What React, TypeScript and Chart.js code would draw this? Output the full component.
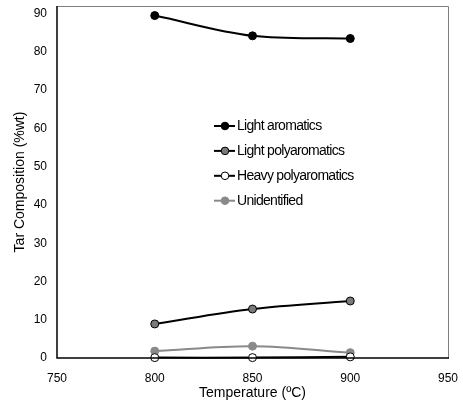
import React, { useEffect, useRef } from "react";
import { Chart, registerables } from "chart.js";

Chart.register(...registerables);

const temperatures = [800, 850, 900];
const lightAromatics = [89.5, 84.2, 83.5];
const lightPolyaromatics = [8.9, 12.8, 14.9];
const heavyPolyaromatics = [0.1, 0.1, 0.3];
const unidentified = [1.8, 3.1, 1.4];
const seriesNames = ["Light aromatics", "Light polyaromatics", "Heavy polyaromatics", "Unidentified"];
const yTicks = [0, 10, 20, 30, 40, 50, 60, 70, 80, 90];
const xTicks = [750, 800, 850, 900, 950];
const xTitle = "Temperature (ºC)";
const yTitle = "Tar Composition (%wt)";

const FONT = "'Liberation Sans', Arial, sans-serif";

const toPoints = (vals: number[]) => vals.map((v, i) => ({ x: temperatures[i], y: v }));

const framePlugin = {
  id: "frameAndLegend",
  afterDraw(chart: any) {
    const { ctx, chartArea } = chart;
    const { left, right, top, bottom } = chartArea;
    ctx.save();
    ctx.strokeStyle = "#7f7f7f";
    ctx.lineWidth = 1;
    ctx.beginPath();
    ctx.moveTo(left, top + 0.5);
    ctx.lineTo(right + 0.5, top + 0.5);
    ctx.lineTo(right + 0.5, bottom);
    ctx.stroke();
    ctx.strokeStyle = "#000";
    ctx.lineWidth = 1.5;
    ctx.beginPath();
    ctx.moveTo(left, top);
    ctx.lineTo(left, bottom);
    ctx.lineTo(right + 1, bottom);
    ctx.stroke();

    ctx.fillStyle = "#000";
    ctx.font = `14px ${FONT}`;
    ctx.textAlign = "center";
    ctx.textBaseline = "middle";
    ctx.fillText(xTitle, (left + right) / 2, 393);
    ctx.save();
    ctx.translate(20, (top + bottom) / 2);
    ctx.rotate(-Math.PI / 2);
    ctx.fillText(yTitle, 0, 0);
    ctx.restore();

    const lx0 = 214;
    const lx1 = 235;
    const mx = 225;
    const tx = 237;
    const y0 = 126;
    const dy = 24.9;
    chart.data.datasets.forEach((ds: any, i: number) => {
      const y = y0 + i * dy;
      ctx.strokeStyle = ds.borderColor;
      ctx.lineWidth = 2;
      ctx.beginPath();
      ctx.moveTo(lx0, y);
      ctx.lineTo(lx1, y);
      ctx.stroke();
      ctx.beginPath();
      ctx.arc(mx, y, 3.8, 0, Math.PI * 2);
      ctx.fillStyle = ds.pointBackgroundColor;
      ctx.fill();
      ctx.lineWidth = 1;
      ctx.strokeStyle = ds.pointBorderColor;
      ctx.stroke();
      ctx.fillStyle = "#000";
      ctx.font = `14px ${FONT}`;
      (ctx as any).letterSpacing = "-0.7px";
      ctx.textAlign = "left";
      ctx.textBaseline = "middle";
      ctx.fillText(ds.label, tx, y + 0.5);
      (ctx as any).letterSpacing = "0px";
    });
    ctx.restore();
  },
};

const zeroPad = (s: any) => {
  s.paddingLeft = 0;
  s.paddingRight = 0;
  s.paddingTop = 0;
  s.paddingBottom = 0;
};

export default function App() {
  const ref = useRef<HTMLCanvasElement>(null);
  useEffect(() => {
    document.body.style.margin = "0";
    const mk = (label: string, vals: number[], line: string, fill: string, border: string) => ({
      label,
      data: toPoints(vals),
      borderColor: line,
      borderWidth: 2,
      pointBackgroundColor: fill,
      pointBorderColor: border,
      pointBorderWidth: 1,
      pointRadius: 4,
      tension: 0.35,
      clip: false as any,
    });
    const chart = new Chart(ref.current!, {
      type: "line",
      data: {
        datasets: [
          mk(seriesNames[0], lightAromatics, "#000", "#000", "#000"),
          mk(seriesNames[1], lightPolyaromatics, "#000", "#7a7a7a", "#000"),
          mk(seriesNames[2], heavyPolyaromatics, "#000", "#fff", "#000"),
          mk(seriesNames[3], unidentified, "#8a8a8a", "#8a8a8a", "#8a8a8a"),
        ],
      },
      options: {
        animation: false,
        responsive: false,
        maintainAspectRatio: false,
        layout: { padding: { top: 6, right: 15, left: 0, bottom: 0 } },
        plugins: { legend: { display: false }, tooltip: { enabled: false } },
        scales: {
          x: {
            type: "linear",
            min: 750,
            max: 950,
            afterBuildTicks: (s: any) => {
              s.ticks = xTicks.map((v) => ({ value: v }));
            },
            afterFit: (s: any) => {
              s.height = 44;
              zeroPad(s);
            },
            grid: { display: false, drawTicks: false },
            border: { display: false },
            ticks: { color: "#000", font: { family: FONT, size: 12 }, padding: 13, maxRotation: 0 },
          },
          y: {
            type: "linear",
            min: 0,
            max: 92,
            afterBuildTicks: (s: any) => {
              s.ticks = yTicks.map((v) => ({ value: v }));
            },
            afterFit: (s: any) => {
              s.width = 57;
              zeroPad(s);
            },
            grid: { display: false, drawTicks: false },
            border: { display: false },
            ticks: { color: "#000", font: { family: FONT, size: 12 }, padding: 10 },
          },
        },
      },
      plugins: [framePlugin],
    });
    return () => chart.destroy();
  }, []);
  return (
    <div style={{ width: 463, height: 402 }}>
      <canvas ref={ref} width={463} height={402} style={{ display: "block" }} />
    </div>
  );
}
